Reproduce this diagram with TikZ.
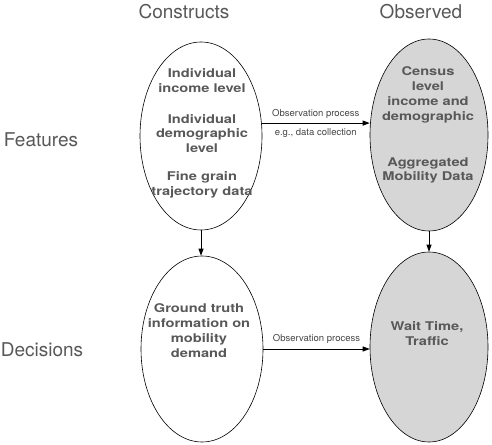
\documentclass[tikz,border=0pt]{standalone}
\usepackage{fontspec}
\setmainfont{TeX Gyre Heros}
\newfontfamily\widesans[FakeStretch=1.22]{TeX Gyre Heros}
\usepackage{xcolor}
\usetikzlibrary{positioning,shapes.geometric,arrows.meta}
\definecolor{textgray}{RGB}{88,88,88}
\definecolor{obsgray}{RGB}{214,214,214}

\tikzset{
  blob/.style={draw, ellipse, inner sep=0pt, line width=0.6pt},
  inside/.style={align=center, text=textgray, font=\widesans\fontsize{12}{14.8}\selectfont\bfseries},
  heading/.style={text=textgray, font=\fontsize{19}{23}\selectfont},
  small/.style={text=textgray!80!black, font=\fontsize{9.5}{11}\selectfont, inner sep=1pt},
  arr/.style={-{Triangle[length=7pt,width=5pt]}, line width=0.8pt}
}

\begin{document}
\begin{tikzpicture}[x=1pt,y=1pt]
\useasboundingbox (0,0) rectangle (492,444);

% the four ellipses
\node[blob, minimum width=122pt, minimum height=188pt] (cfeat) at (201,308) {};
\node[blob, fill=obsgray, minimum width=118pt, minimum height=192pt] (ofeat) at (429,309) {};
\node[blob, minimum width=122pt, minimum height=186pt] (cdec) at (202,95) {};
\node[blob, fill=obsgray, minimum width=118pt, minimum height=190pt] (odec) at (429,97) {};

% headings
\node[heading] (constructs) at (184,432) {Constructs};
\node[heading] (observed) at (421,432) {Observed};
\node[heading] (features) at (41,304) {Features};
\node[heading] (decisions) at (42,94) {Decisions};

% text inside
\node[inside] (income) at (202,363.5) {Individual\\income level};
\node[inside] (demo) at (202,310.5) {Individual\\demographic\\level};
\node[inside] (traj) at (202,259) {Fine grain\\trajectory data};
\node[inside] (census) at (428,349) {Census\\level\\income and\\demographic};
\node[inside] (aggr) at (428,273.5) {Aggregated\\Mobility Data};
\node[inside] (truth) at (199,113.5) {Ground truth\\information on\\mobility\\demand};
\node[inside] (wait) at (427,110.5) {Wait Time,\\Traffic};

% connectors
\draw[arr] (cfeat.12) -- node[small, above=3pt] (obsA) {Observation process}
  node[small, below=4pt] (dataA) {e.g., data collection} (cfeat.12 -| ofeat.west);
\draw[arr] (cdec.east) -- node[small, above=4pt] (obsB) {Observation process} (cdec.east -| odec.west);
\draw[arr] (cfeat.south) -- (cfeat.south |- cdec.north);
\draw[arr] (ofeat.south) -- (ofeat.south |- odec.north);

\end{tikzpicture}
\end{document}
